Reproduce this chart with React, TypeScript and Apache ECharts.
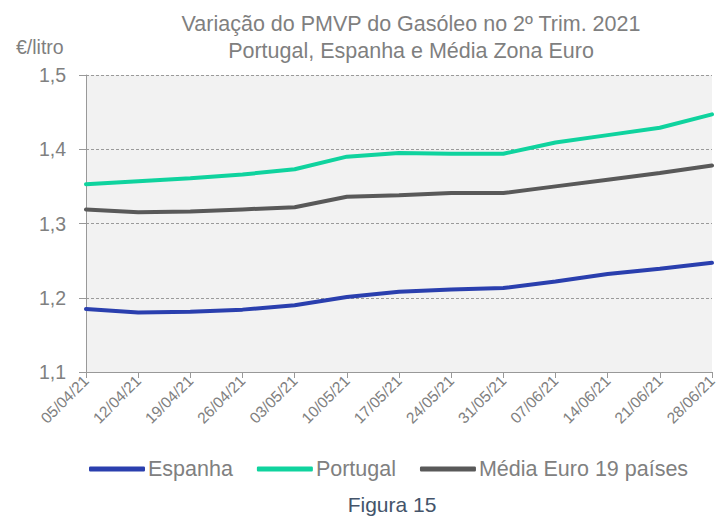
import React, { useEffect, useRef } from "react";
import * as echarts from "echarts";

const categories = ["05/04/21", "12/04/21", "19/04/21", "26/04/21", "03/05/21", "10/05/21", "17/05/21", "24/05/21", "31/05/21", "07/06/21", "14/06/21", "21/06/21", "28/06/21"];
const espanha = [1.185, 1.180, 1.181, 1.184, 1.190, 1.201, 1.208, 1.211, 1.213, 1.222, 1.232, 1.239, 1.247];
const portugal = [1.353, 1.357, 1.361, 1.366, 1.373, 1.390, 1.395, 1.394, 1.394, 1.409, 1.419, 1.429, 1.447];
const media = [1.319, 1.315, 1.316, 1.319, 1.322, 1.336, 1.338, 1.341, 1.341, 1.350, 1.359, 1.368, 1.378];
const seriesNames = ["Espanha", "Portugal", "Média Euro 19 países"];
const colors = ["#2a3fae", "#0fd39e", "#595959"];

const FONT = "'Liberation Sans', Arial, sans-serif";

export default function App() {
  const ref = useRef<HTMLDivElement>(null);
  useEffect(() => {
    if (!ref.current) return;
    const chart = echarts.init(ref.current, undefined, { renderer: "svg" });
    const data = [espanha, portugal, media];
    chart.setOption({
      animation: false,
      backgroundColor: "#ffffff",
      textStyle: { fontFamily: FONT },
      title: [
        {
          text: "Variação do PMVP do Gasóleo no 2º Trim. 2021\nPortugal, Espanha e Média Zona Euro",
          left: 406,
          top: 5,
          textAlign: "center",
          textStyle: { fontFamily: FONT, fontSize: 21.5, fontWeight: "normal", color: "#7f7f7f", lineHeight: 27 },
        },
        {
          text: "€/litro",
          left: 11,
          top: 32,
          textStyle: { fontFamily: FONT, fontSize: 19.5, fontWeight: "normal", color: "#7f7f7f" },
        },
        {
          text: "Figura 15",
          left: 392,
          top: 493,
          padding: 0,
          textAlign: "center",
          textStyle: { fontFamily: FONT, fontSize: 21, fontWeight: "normal", color: "#44546a", lineHeight: 23 },
        },
      ],
      legend: {
        top: 453,
        left: 84,
        itemWidth: 56,
        itemHeight: 5,
        itemGap: 24,
        icon: "roundRect",
        textStyle: { fontFamily: FONT, fontSize: 21.5, color: "#808080", padding: [0, 0, 0, -2] },
        data: seriesNames,
      },
      grid: { left: 86, right: 15, top: 75, bottom: 147, backgroundColor: "#f2f2f2", show: true, borderWidth: 0 },
      xAxis: {
        type: "category",
        data: categories,
        boundaryGap: false,
        axisLine: { lineStyle: { color: "#999999", width: 1 } },
        axisTick: { show: true, length: 6, lineStyle: { color: "#999999" } },
        axisLabel: { rotate: 45, fontSize: 15.5, color: "#808080", fontFamily: FONT, margin: 6 },
        splitLine: { show: false },
      },
      yAxis: {
        type: "value",
        min: 1.1,
        max: 1.5,
        interval: 0.1,
        axisLine: { show: true, lineStyle: { color: "#999999" } },
        axisTick: { show: true, length: 7, lineStyle: { color: "#999999" } },
        axisLabel: {
          fontSize: 19.5,
          color: "#808080",
          fontFamily: FONT,
          margin: 20,
          formatter: (v: number) => v.toFixed(1).replace(".", ","),
        },
        splitLine: { show: true, lineStyle: { color: "#9a9a9a", type: [3, 2], width: 1 } },
      },
      series: seriesNames.map((name, i) => ({
        name,
        type: "line",
        data: data[i],
        symbol: "none",
        color: colors[i],
        lineStyle: { width: 4, color: colors[i], cap: "round" },
        z: 3 - i,
      })),
    });
    return () => chart.dispose();
  }, []);
  return <div ref={ref} style={{ width: 727, height: 519, position: "absolute", left: 0, top: 0 }} />;
}
